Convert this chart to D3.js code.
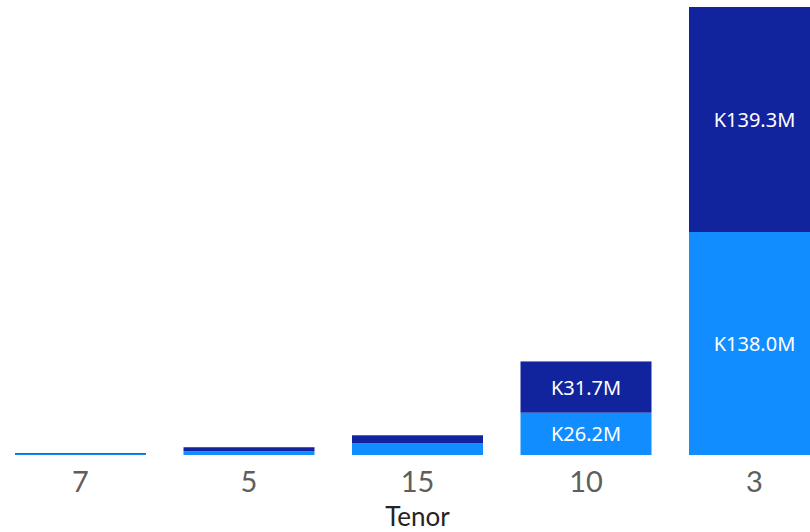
<!DOCTYPE html>
<html>
<meta charset="utf-8">
<head>
<style>
body { margin: 0; background: #fff; }
.axis text { font-family: "Segoe UI", Lato, sans-serif; font-size: 29px; fill: #605E5C; }
.axis-title { font-family: "Segoe UI", Lato, sans-serif; font-size: 26px; fill: #252423; }
.seg-label { font-family: "Segoe UI", "Noto Sans", sans-serif; font-size: 20px; fill: #fff; }
</style>
</head>
<body>
<svg width="810" height="532"></svg>
<script src="https://d3js.org/d3.v7.min.js"></script>
<script>

// tenors, in the order drawn
var tenors = ["7", "5", "15", "10", "3"];
// bottom (light) and top (dark) series, in millions
var lowerValues = [0.6, 2.3, 7.2, 26.2, 138.0];
var upperValues = [0.5, 2.5, 5.0, 31.7, 139.3];
var seriesNames = ["lower", "upper"];
var seriesColors = ["#118DFF", "#12239E"];

var svg = d3.select("svg"),
  width = +svg.attr("width"),
  height = +svg.attr("height"),
  baseline = 455,
  plotTop = 7;

var rows = tenors.map(function(t, i) {
  return { tenor: t, lower: lowerValues[i], upper: upperValues[i] };
});

var stack = d3.stack().keys(seriesNames)(rows);

var x = d3.scaleBand()
  .domain(tenors)
  .range([15, 820])
  .paddingInner(0.2226)
  .paddingOuter(0);

var y = d3.scaleLinear()
  .domain([0, d3.max(rows, function(d) { return d.lower + d.upper; })])
  .range([baseline, plotTop]);

var color = d3.scaleOrdinal().domain(seriesNames).range(seriesColors);

var layers = svg.append("g")
  .selectAll("g")
  .data(stack).enter()
  .append("g")
  .attr("fill", function(d) { return color(d.key); });

layers.selectAll("rect")
  .data(function(d) { return d; })
  .enter().append("rect")
  .attr("x", function(d) { return x(d.data.tenor); })
  .attr("width", x.bandwidth())
  .attr("y", function(d) { return y(d[1]); })
  .attr("height", function(d) { return y(d[0]) - y(d[1]); });

// labels only where the segment is tall enough
layers.selectAll("text")
  .data(function(d) { return d.filter(function(s) { return y(s[0]) - y(s[1]) > 26; }); })
  .enter().append("text")
  .attr("class", "seg-label")
  .attr("text-anchor", "middle")
  .attr("dominant-baseline", "central")
  .attr("x", function(d) { return x(d.data.tenor) + x.bandwidth() / 2; })
  .attr("y", function(d) { return (y(d[0]) + y(d[1])) / 2; })
  .text(function(d) { return "K" + (d[1] - d[0]).toFixed(1) + "M"; });

var xAxis = d3.axisBottom(x).tickSize(0).tickPadding(0);

var ax = svg.append("g")
  .attr("class", "axis")
  .attr("transform", "translate(0," + baseline + ")")
  .call(xAxis);
ax.select(".domain").remove();
ax.selectAll("text").attr("dy", null).attr("y", 37);
ax.attr("font-size", null).attr("font-family", null);

svg.append("text")
  .attr("class", "axis-title")
  .attr("text-anchor", "middle")
  .attr("x", x("15") + x.bandwidth() / 2)
  .attr("y", 526)
  .text("Tenor");

</script>
</body>
</html>
